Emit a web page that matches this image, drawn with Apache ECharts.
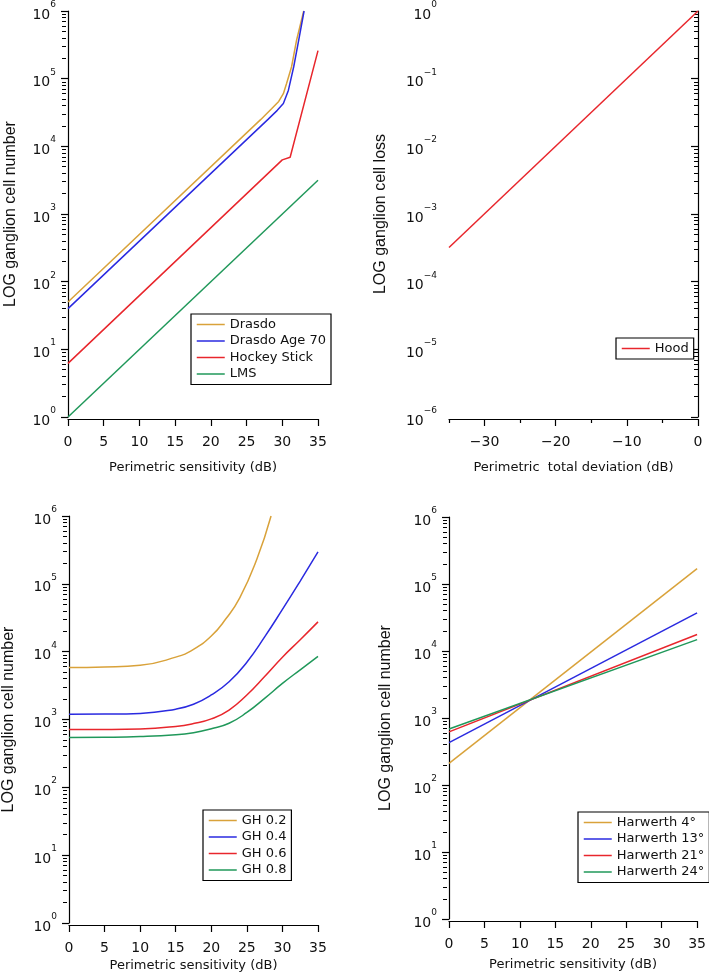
<!DOCTYPE html>
<html lang="en">
<head>
    <meta charset="UTF-8">
    <title>Ganglion cell models</title>
    <script src="https://cdn.jsdelivr.net/npm/echarts@6/dist/echarts.min.js"></script>
    <style>
        html, body { margin: 0; padding: 0; background: #fff; }
    </style>
</head>
<body>
<div id="main" style="width: 709px;height:973px;"></div>
<script type="text/javascript">
    // --- data ---
    var xTicksSens = [0, 5, 10, 15, 20, 25, 30, 35];
    var xTicksTD = [-30, -20, -10, 0];
    var xMinorTD = [-35, -25, -15, -5];
    var decadesCount = [1, 10, 100, 1e3, 1e4, 1e5, 1e6];
    var decadesLoss = [1e-6, 1e-5, 1e-4, 1e-3, 1e-2, 1e-1, 1];

    // panel A
    var drasdo = [[0, 50], [27, 25000], [28.5, 36000], [29.5, 46000], [30.15, 60000], [30.6, 85000], [31.3, 150000], [32.0, 370000], [33.0, 1000000]];
    var drasdo70 = [[0, 40], [28, 25000], [29.3, 34000], [30.15, 43000], [30.85, 67000], [31.6, 150000], [32.3, 370000], [33.05, 1000000]];
    var hockey = [[0, 6.2], [30, 6300], [31.1, 6900], [35, 260000]];
    var lms = [[0, 1], [35, 3160]];

    // panel B
    var hood = [[-35, 0.00032], [0, 1]];

    // panel C
    var gh02 = [[0, 5850], [5, 5950], [10, 6300], [15, 8300], [17.5, 10800], [20, 17000], [22, 30000], [24, 62000], [26.4, 230000], [28.4, 1000000]];
    var gh04 = [[0, 1200], [5, 1205], [10, 1230], [15, 1420], [17.5, 1680], [20, 2300], [22.5, 3600], [25, 7000], [27.5, 16500], [30, 42000], [32.5, 110000], [35, 295000]];
    var gh06 = [[0, 710], [5, 712], [10, 725], [15, 790], [17.5, 870], [20, 1020], [22.5, 1380], [25, 2300], [27.5, 4300], [30, 8300], [32.5, 15000], [35, 27500]];
    var gh08 = [[0, 545], [5, 548], [10, 560], [15, 595], [17.5, 640], [20, 730], [22.5, 880], [25, 1270], [27.5, 2050], [30, 3400], [32.5, 5400], [35, 8500]];

    // panel D
    var harw4 = [[0, 210], [35, 170000]];
    var harw13 = [[0, 430], [35, 37000]];
    var harw21 = [[0, 620], [35, 17600]];
    var harw24 = [[0, 685], [35, 14800]];

    var GOLD = '#d9a23a', BLUE = '#2a2ae0', RED = '#e8262c', GREEN = '#20985a';
    var FONT = 'DejaVu Sans';

    function minorOf(decades) {
        var out = [];
        for (var i = 0; i < decades.length - 1; i++) {
            for (var k = 2; k <= 9; k++) out.push(k * decades[i]);
        }
        return out;
    }

    function powLabel(v) {
        var e = Math.round(Math.log(v) / Math.LN10);
        var s = e < 0 ? '\u2212' + (-e) : '' + e;
        return '{b|10}{s|' + s + '}';
    }

    var grids = [
        {left: 68, top: 11, width: 250, height: 406},
        {left: 449, top: 11, width: 249, height: 406},
        {left: 68, top: 516, width: 250, height: 407},
        {left: 449, top: 517, width: 249, height: 402}
    ];
    var yNames = ['LOG ganglion cell number', 'LOG ganglion cell loss', 'LOG ganglion cell number', 'LOG ganglion cell number'];
    var yGaps = [47, 58, 50, 53];
    var xNames = ['Perimetric sensitivity (dB)', 'Perimetric  total deviation (dB)', 'Perimetric sensitivity (dB)', 'Perimetric sensitivity (dB)'];
    var xGaps = [42, 42, 34, 37];

    var xAxes = [], yAxes = [];
    for (var g = 0; g < 4; g++) {
        var isTD = g === 1;
        var dec = isTD ? decadesLoss : decadesCount;
        xAxes.push({
            type: 'value', gridIndex: g, min: isTD ? -35 : 0, max: isTD ? 0 : 35,
            position: 'bottom', offset: 2,
            name: xNames[g], nameLocation: 'middle', nameGap: xGaps[g],
            nameTextStyle: {fontFamily: FONT, fontSize: 13, color: '#111'},
            axisLine: {onZero: false, lineStyle: {color: '#000', width: 1.2}},
            axisTick: {length: 7, customValues: isTD ? xTicksTD : xTicksSens, lineStyle: {color: '#000', width: 1.2}},
            axisLabel: {
                customValues: isTD ? xTicksTD : xTicksSens, margin: 16,
                fontFamily: FONT, fontSize: 14, color: '#111',
                formatter: function (v) { return v < 0 ? '\u2212' + (-v) : '' + v; }
            },
            splitLine: {show: false}
        });
        yAxes.push({
            type: 'log', gridIndex: g, min: dec[0], max: dec[dec.length - 1],
            position: 'left', offset: 2,
            name: yNames[g], nameLocation: 'middle', nameGap: yGaps[g],
            nameTextStyle: {fontFamily: 'Liberation Sans', fontSize: 16, color: '#111'},
            axisLine: {lineStyle: {color: '#000', width: 1.2}},
            axisTick: {length: 7, customValues: dec, lineStyle: {color: '#000', width: 1.2}},
            axisLabel: {
                customValues: dec, margin: 10, formatter: powLabel,
                rich: {
                    b: {fontFamily: FONT, fontSize: 14, color: '#111', lineHeight: 22, verticalAlign: 'bottom'},
                    s: {fontFamily: FONT, fontSize: 9, color: '#111', lineHeight: 22, verticalAlign: 'top'}
                }
            },
            splitLine: {show: false}
        });
        // minor log ticks
        yAxes.push({
            type: 'log', gridIndex: g, min: dec[0], max: dec[dec.length - 1],
            position: 'left', offset: 2,
            axisLine: {show: false},
            axisTick: {length: 4, customValues: minorOf(dec), lineStyle: {color: '#000', width: 1}},
            axisLabel: {show: false},
            splitLine: {show: false}
        });
    }
    // minor x ticks on the total deviation panel
    xAxes.push({
        type: 'value', gridIndex: 1, min: -35, max: 0, position: 'bottom', offset: 2,
        axisLine: {show: false},
        axisTick: {length: 4, customValues: xMinorTD, lineStyle: {color: '#000', width: 1.2}},
        axisLabel: {show: false},
        splitLine: {show: false}
    });

    function line(name, data, color, g, smooth) {
        return {
            name: name, type: 'line', data: data, xAxisIndex: g, yAxisIndex: g * 2,
            symbol: 'none', smooth: smooth ? 0.5 : false,
            lineStyle: {color: color, width: 1.5}, itemStyle: {color: color},
            animation: false
        };
    }

    var series = [
        line('Drasdo', drasdo, GOLD, 0, false),
        line('Drasdo Age 70', drasdo70, BLUE, 0, false),
        line('Hockey Stick', hockey, RED, 0, false),
        line('LMS', lms, GREEN, 0, false),
        line('Hood', hood, RED, 1, false),
        line('GH 0.2', gh02, GOLD, 2, true),
        line('GH 0.4', gh04, BLUE, 2, true),
        line('GH 0.6', gh06, RED, 2, true),
        line('GH 0.8', gh08, GREEN, 2, true),
        line('Harwerth 4°', harw4, GOLD, 3, false),
        line('Harwerth 13°', harw13, BLUE, 3, false),
        line('Harwerth 21°', harw21, RED, 3, false),
        line('Harwerth 24°', harw24, GREEN, 3, false)
    ];

    function legendAt(names, left, top) {
        return {
            data: names, left: left, top: top, orient: 'vertical',
            itemWidth: 28, itemHeight: 14, itemGap: 3.5,
            padding: [4, 5, 4, 5],
            borderColor: '#000', borderWidth: 1.2, backgroundColor: '#fff',
            itemStyle: {opacity: 0},
            lineStyle: {width: 1.5},
            textStyle: {fontFamily: FONT, fontSize: 13, color: '#111'},
            selectedMode: false
        };
    }

    var myChart = echarts.init(document.getElementById('main'), null, {renderer: 'canvas'});
    myChart.setOption({
        backgroundColor: '#fff',
        animation: false,
        grid: grids,
        xAxis: xAxes,
        yAxis: yAxes,
        legend: [
            legendAt(['Drasdo', 'Drasdo Age 70', 'Hockey Stick', 'LMS'], 191, 314),
            legendAt(['Hood'], 616, 338),
            legendAt(['GH 0.2', 'GH 0.4', 'GH 0.6', 'GH 0.8'], 203, 810),
            legendAt(['Harwerth 4°', 'Harwerth 13°', 'Harwerth 21°', 'Harwerth 24°'], 578, 812)
        ],
        series: series
    });
</script>
</body>
</html>
